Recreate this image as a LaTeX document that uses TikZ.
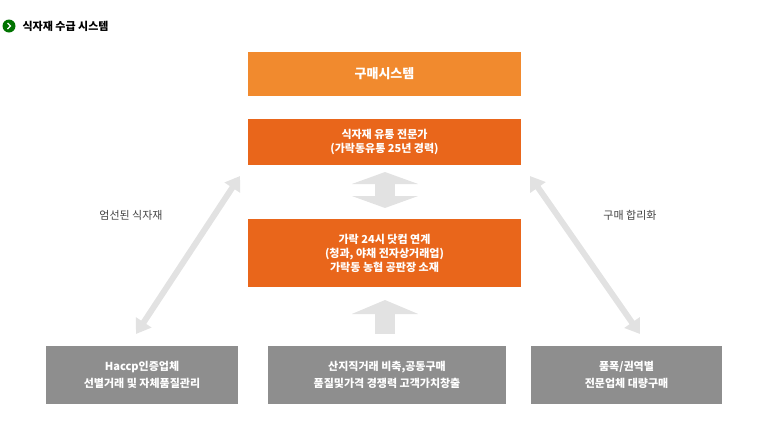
\documentclass[tikz,border=0pt]{standalone}
\usepackage{fontspec}
\setmainfont{Noto Sans CJK KR}
\usetikzlibrary{arrows.meta,positioning}
\definecolor{lightor}{HTML}{F18A2E}
\definecolor{darkor}{HTML}{E9661B}
\definecolor{boxgray}{HTML}{8E8E8E}
\definecolor{arrgray}{HTML}{E2E2E2}
\definecolor{txtgray}{HTML}{444444}
\begin{document}
\begin{tikzpicture}[
        x=1pt, y=-1pt,
        orbox/.style={fill=darkor, text=white, minimum width=273pt, align=center, font=\fontsize{11}{14}\selectfont\bfseries, inner sep=0pt},
        graybox/.style={fill=boxgray, text=white, minimum height=58pt, align=center, font=\fontsize{11}{17}\selectfont\bfseries, inner sep=0pt},
        fatarrow/.style={draw=arrgray, line width=6pt, {Triangle[width=18pt,length=14pt]}-{Triangle[width=18pt,length=14pt]}},
        side label/.style={text=txtgray, font=\fontsize{11}{13}\selectfont}
        ]
        \useasboundingbox (0,0) rectangle (770,424);
        % title
        \fill[green!45!black] (9,26) circle (6.5pt);
        \draw[white, line width=1.2pt] (7.5,23) -- (10.5,26) -- (7.5,29);
        \node[anchor=west, font=\fontsize{11}{13}\selectfont\bfseries] (title) at (19,26) {식자재 수급 시스템};

        % orange boxes
        \node[orbox, fill=lightor, minimum height=44pt, font=\fontsize{13}{15}\selectfont\bfseries] (sys) at (384.5,74) {구매시스템};
        \node[orbox, minimum height=46pt] (expert) at (384.5,142) {식자재 유통 전문가\\(가락동유통 25년 경력)};
        \node[orbox, minimum height=68pt] (link) at (384.5,253) {가락 24시 닷컴 연계\\(청과, 야채 전자상거래업)\\가락동 농협 공판장 소재};

        % gray boxes
        \node[graybox, minimum width=192pt] (haccp) at (142,375) {Haccp인증업체\\선별거래 및 자체품질관리};
        \node[graybox, minimum width=238pt] (direct) at (387,375) {산지직거래 비축,공동구매\\품질및가격 경쟁력 고객가치창출};
        \node[graybox, minimum width=191pt] (bulk) at (626.5,375) {품폭/권역별\\전문업체 대량구매};

        % arrows
        \coordinate (lt) at (240,176);
        \coordinate (lb) at (136,334);
        \coordinate (rt) at (530,176);
        \coordinate (rb) at (640,334);
        \draw[fatarrow] (lt) -- (lb);
        \draw[fatarrow] (rt) -- (rb);
        \draw[fatarrow, line width=20pt, {Triangle[width=66pt,length=12pt]}-{Triangle[width=66pt,length=12pt]}] (385,172) -- (385,208);
        \draw[draw=arrgray, line width=20pt, -{Triangle[width=66pt,length=14pt]}] (385,334) -- (385,300);

        \node[side label] (pick) at (131,215) {엄선된 식자재};
        \node[side label] (ratio) at (630,215) {구매 합리화};
    \end{tikzpicture}
\end{document}
